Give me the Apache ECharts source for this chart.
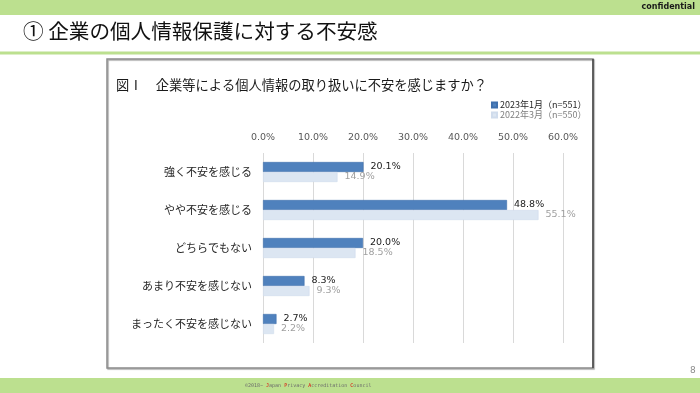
<!DOCTYPE html>
<html>
<head>
<meta charset="utf-8">
<script src="https://cdn.jsdelivr.net/npm/echarts@6/dist/echarts.min.js"></script>
<style>
html,body{margin:0;padding:0;background:#fff;}
#c{width:700px;height:393px;}
</style>
</head>
<body>
<div id="c"></div>
<script>
const categories = ['強く不安を感じる', 'やや不安を感じる', 'どちらでもない', 'あまり不安を感じない', 'まったく不安を感じない'];
const seriesNames = ['2023年1月（n=551）', '2022年3月（n=550）'];
const values2023 = [20.1, 48.8, 20.0, 8.3, 2.7];
const values2022 = [14.9, 55.1, 18.5, 9.3, 2.2];
const tickMin = 0, tickMax = 60, tickStep = 10;

const JP = '"Noto Sans CJK JP", "Noto Sans", sans-serif';
const GREEN = '#BCE08F';

const chart = echarts.init(document.getElementById('c'), null, {renderer: 'canvas'});
chart.setOption({
  backgroundColor: '#fff',
  animation: false,
  title: {
    text: '図Ⅰ　企業等による個人情報の取り扱いに不安を感じますか？',
    left: 111, top: 73,
    textStyle: {fontFamily: JP, fontSize: 13.25, fontWeight: 'normal', color: '#1a1a1a'}
  },
  legend: {
    orient: 'vertical',
    left: 486, top: 95,
    itemWidth: 5, itemHeight: 5, itemGap: 0,
    icon: 'rect',
    data: [
      {name: seriesNames[0], textStyle: {color: '#262626'}},
      {name: seriesNames[1], textStyle: {color: '#7f7f7f'}}
    ],
    textStyle: {fontFamily: JP, fontSize: 9, lineHeight: 10, padding: [0,0,0,-2]}
  },
  grid: {left: 263, right: 137, top: 153, bottom: 50, containLabel: false},
  xAxis: {
    type: 'value', position: 'top',
    min: tickMin, max: tickMax, interval: tickStep,
    axisLine: {show: false}, axisTick: {show: false},
    splitLine: {lineStyle: {color: '#D9D9D9', width: 1}},
    axisLabel: {
      margin: 10, color: '#595959', fontSize: 9.5, fontFamily: '"DejaVu Sans", sans-serif',
      formatter: v => v.toFixed(1) + '%'
    }
  },
  yAxis: {
    type: 'category', inverse: true, data: categories,
    axisLine: {show: false}, axisTick: {show: false},
    axisLabel: {margin: 11, color: '#262626', fontSize: 11, fontFamily: JP}
  },
  series: [
    {
      name: seriesNames[0], type: 'bar', data: values2023,
      barWidth: 10, barGap: '0%',
      itemStyle: {color: '#4F81BD', borderColor: '#3F70AD', borderWidth: 0.6},
      label: {show: true, position: 'right', distance: 7, color: '#1a1a1a', fontSize: 9.5,
        fontFamily: '"DejaVu Sans", sans-serif', formatter: p => p.value.toFixed(1) + '%'}
    },
    {
      name: seriesNames[1], type: 'bar', data: values2022,
      barWidth: 10, barGap: '0%',
      itemStyle: {color: '#DCE6F2', borderColor: '#D0DCEC', borderWidth: 0.6},
      label: {show: true, position: 'right', distance: 7, color: '#A0A0A0', fontSize: 9.5,
        fontFamily: '"DejaVu Sans", sans-serif', formatter: p => p.value.toFixed(1) + '%'}
    }
  ],
  graphic: [
    {type: 'rect', shape: {x: 0, y: 0, width: 700, height: 15}, style: {fill: GREEN}, z: -10},
    {type: 'text', right: 5, top: 3, style: {text: 'confidential', fill: '#1a1a1a',
      font: 'bold 8px "DejaVu Sans", sans-serif'}},
    {type: 'text', left: 23, top: 21, style: {text: '① 企業の個人情報保護に対する不安感', fill: '#111',
      font: '20.6px "Noto Sans CJK JP", sans-serif'}},
    {type: 'rect', shape: {x: 0, y: 51.5, width: 700, height: 3}, style: {fill: GREEN}, z: -10},
    {type: 'rect', shape: {x: 107, y: 59, width: 486, height: 309},
      style: {fill: 'none', stroke: '#8c8c8c', lineWidth: 1.5,
        shadowColor: 'rgba(0,0,0,0.35)', shadowOffsetX: 1, shadowOffsetY: 1, shadowBlur: 1}, z: -5},
    {type: 'line', shape: {x1: 593, y1: 59, x2: 593, y2: 368}, style: {stroke: '#333', lineWidth: 1.2}, z: -4},
    {type: 'text', left: 690, top: 366, style: {text: '8', fill: '#8c8c8c', font: '9px "DejaVu Sans", sans-serif'}},
    {type: 'rect', shape: {x: 0, y: 378, width: 700, height: 15}, style: {fill: GREEN}, z: -10},
    {type: 'text', left: 245, top: 383, style: {
      text: '{g|©2018~ }{r|J}{g|apan }{r|P}{g|rivacy }{r|A}{g|ccreditation }{r|C}{g|ouncil}',
      rich: {
        g: {fill: '#6b6b6b', font: '5px "DejaVu Sans Mono", monospace'},
        r: {fill: '#e00000', font: '5px "DejaVu Sans Mono", monospace'}
      }
    }}
  ]
});
</script>
</body>
</html>
